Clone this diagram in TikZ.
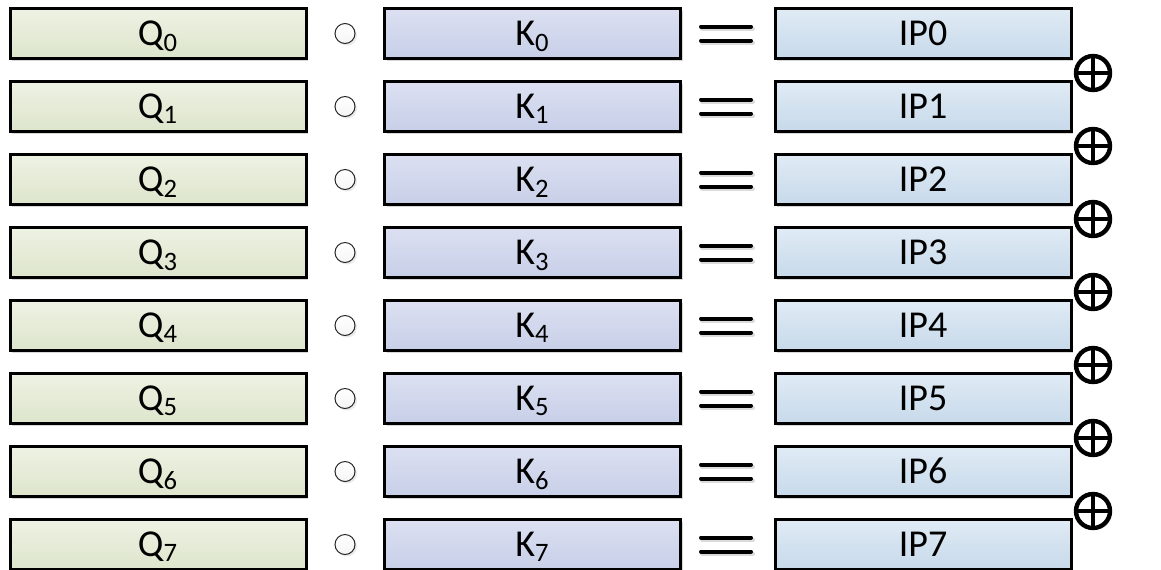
\documentclass[tikz,border=0pt]{standalone}
\usepackage{fontspec}
\setmainfont{Carlito}
\usetikzlibrary{shadows}
\definecolor{qtop}{RGB}{238,242,227}
\definecolor{qbot}{RGB}{221,229,204}
\definecolor{ktop}{RGB}{220,224,241}
\definecolor{kbot}{RGB}{199,207,232}
\definecolor{iptop}{RGB}{224,235,245}
\definecolor{ipbot}{RGB}{199,217,234}
\tikzset{
  box/.style={draw=black, line width=1.5pt, minimum width=148pt, minimum height=25pt,
    inner sep=0pt, font=\fontsize{19}{22}\selectfont, text height=12.2pt, text depth=0pt,
    drop shadow={shadow xshift=1.2pt, shadow yshift=-1.2pt, opacity=0.35, fill=black!45}},
  qbox/.style={box, top color=qtop, bottom color=qbot},
  kbox/.style={box, top color=ktop, bottom color=kbot},
  ipbox/.style={box, top color=iptop, bottom color=ipbot},
  opcirc/.style={circle, draw=black!85, line width=0.5pt, minimum size=10pt, inner sep=0pt,
    top color=white, bottom color=black!4,
    drop shadow={shadow xshift=1pt, shadow yshift=-1pt, opacity=0.25, fill=black!35}},
  eqline/.style={line width=2pt, line cap=round},
  xorsym/.style={circle, draw=black, line width=2.2pt, minimum size=17pt, inner sep=0pt,
    fill=white, drop shadow={shadow xshift=1pt, shadow yshift=-1pt, opacity=0.3, fill=black!40},
    path picture={\draw[line width=1.6pt]
      (path picture bounding box.north) -- (path picture bounding box.south)
      (path picture bounding box.west) -- (path picture bounding box.east);}}
}
\begin{document}
\begin{tikzpicture}[x=0.5pt,y=-0.5pt]
  \useasboundingbox (0,0) rectangle (1161,569);
  \clip (0,0) rectangle (1161,569);
  % one row per position
  \foreach \i [evaluate=\i as \yy using 33.5+73*\i] in {0,...,7}{%
    \node[qbox] (q\i) at (158,\yy) {Q\textsubscript{\i}};
    \node[opcirc] (c\i) at (345,\yy) {};
    \node[kbox] (k\i) at (532.5,\yy) {K\textsubscript{\i}};
    \coordinate (e\i) at (726,\yy);
    \draw[eqline, black!14] ([shift={(-24,-5)}]e\i) -- ([shift={(27,-5)}]e\i);
    \draw[eqline, black!14] ([shift={(-24,9)}]e\i) -- ([shift={(27,9)}]e\i);
    \draw[eqline] ([shift={(-25,-7)}]e\i) -- ([shift={(25,-7)}]e\i);
    \draw[eqline] ([shift={(-25,7)}]e\i) -- ([shift={(25,7)}]e\i);
    \node[ipbox] (ip\i) at (923,\yy) {IP\i};
  }
  % sums between rows
  \foreach \i [evaluate=\i as \yy using 73+73*\i] in {0,...,6}{%
    \node[xorsym] (x\i) at (1093,\yy) {};
  }
\end{tikzpicture}
\end{document}
